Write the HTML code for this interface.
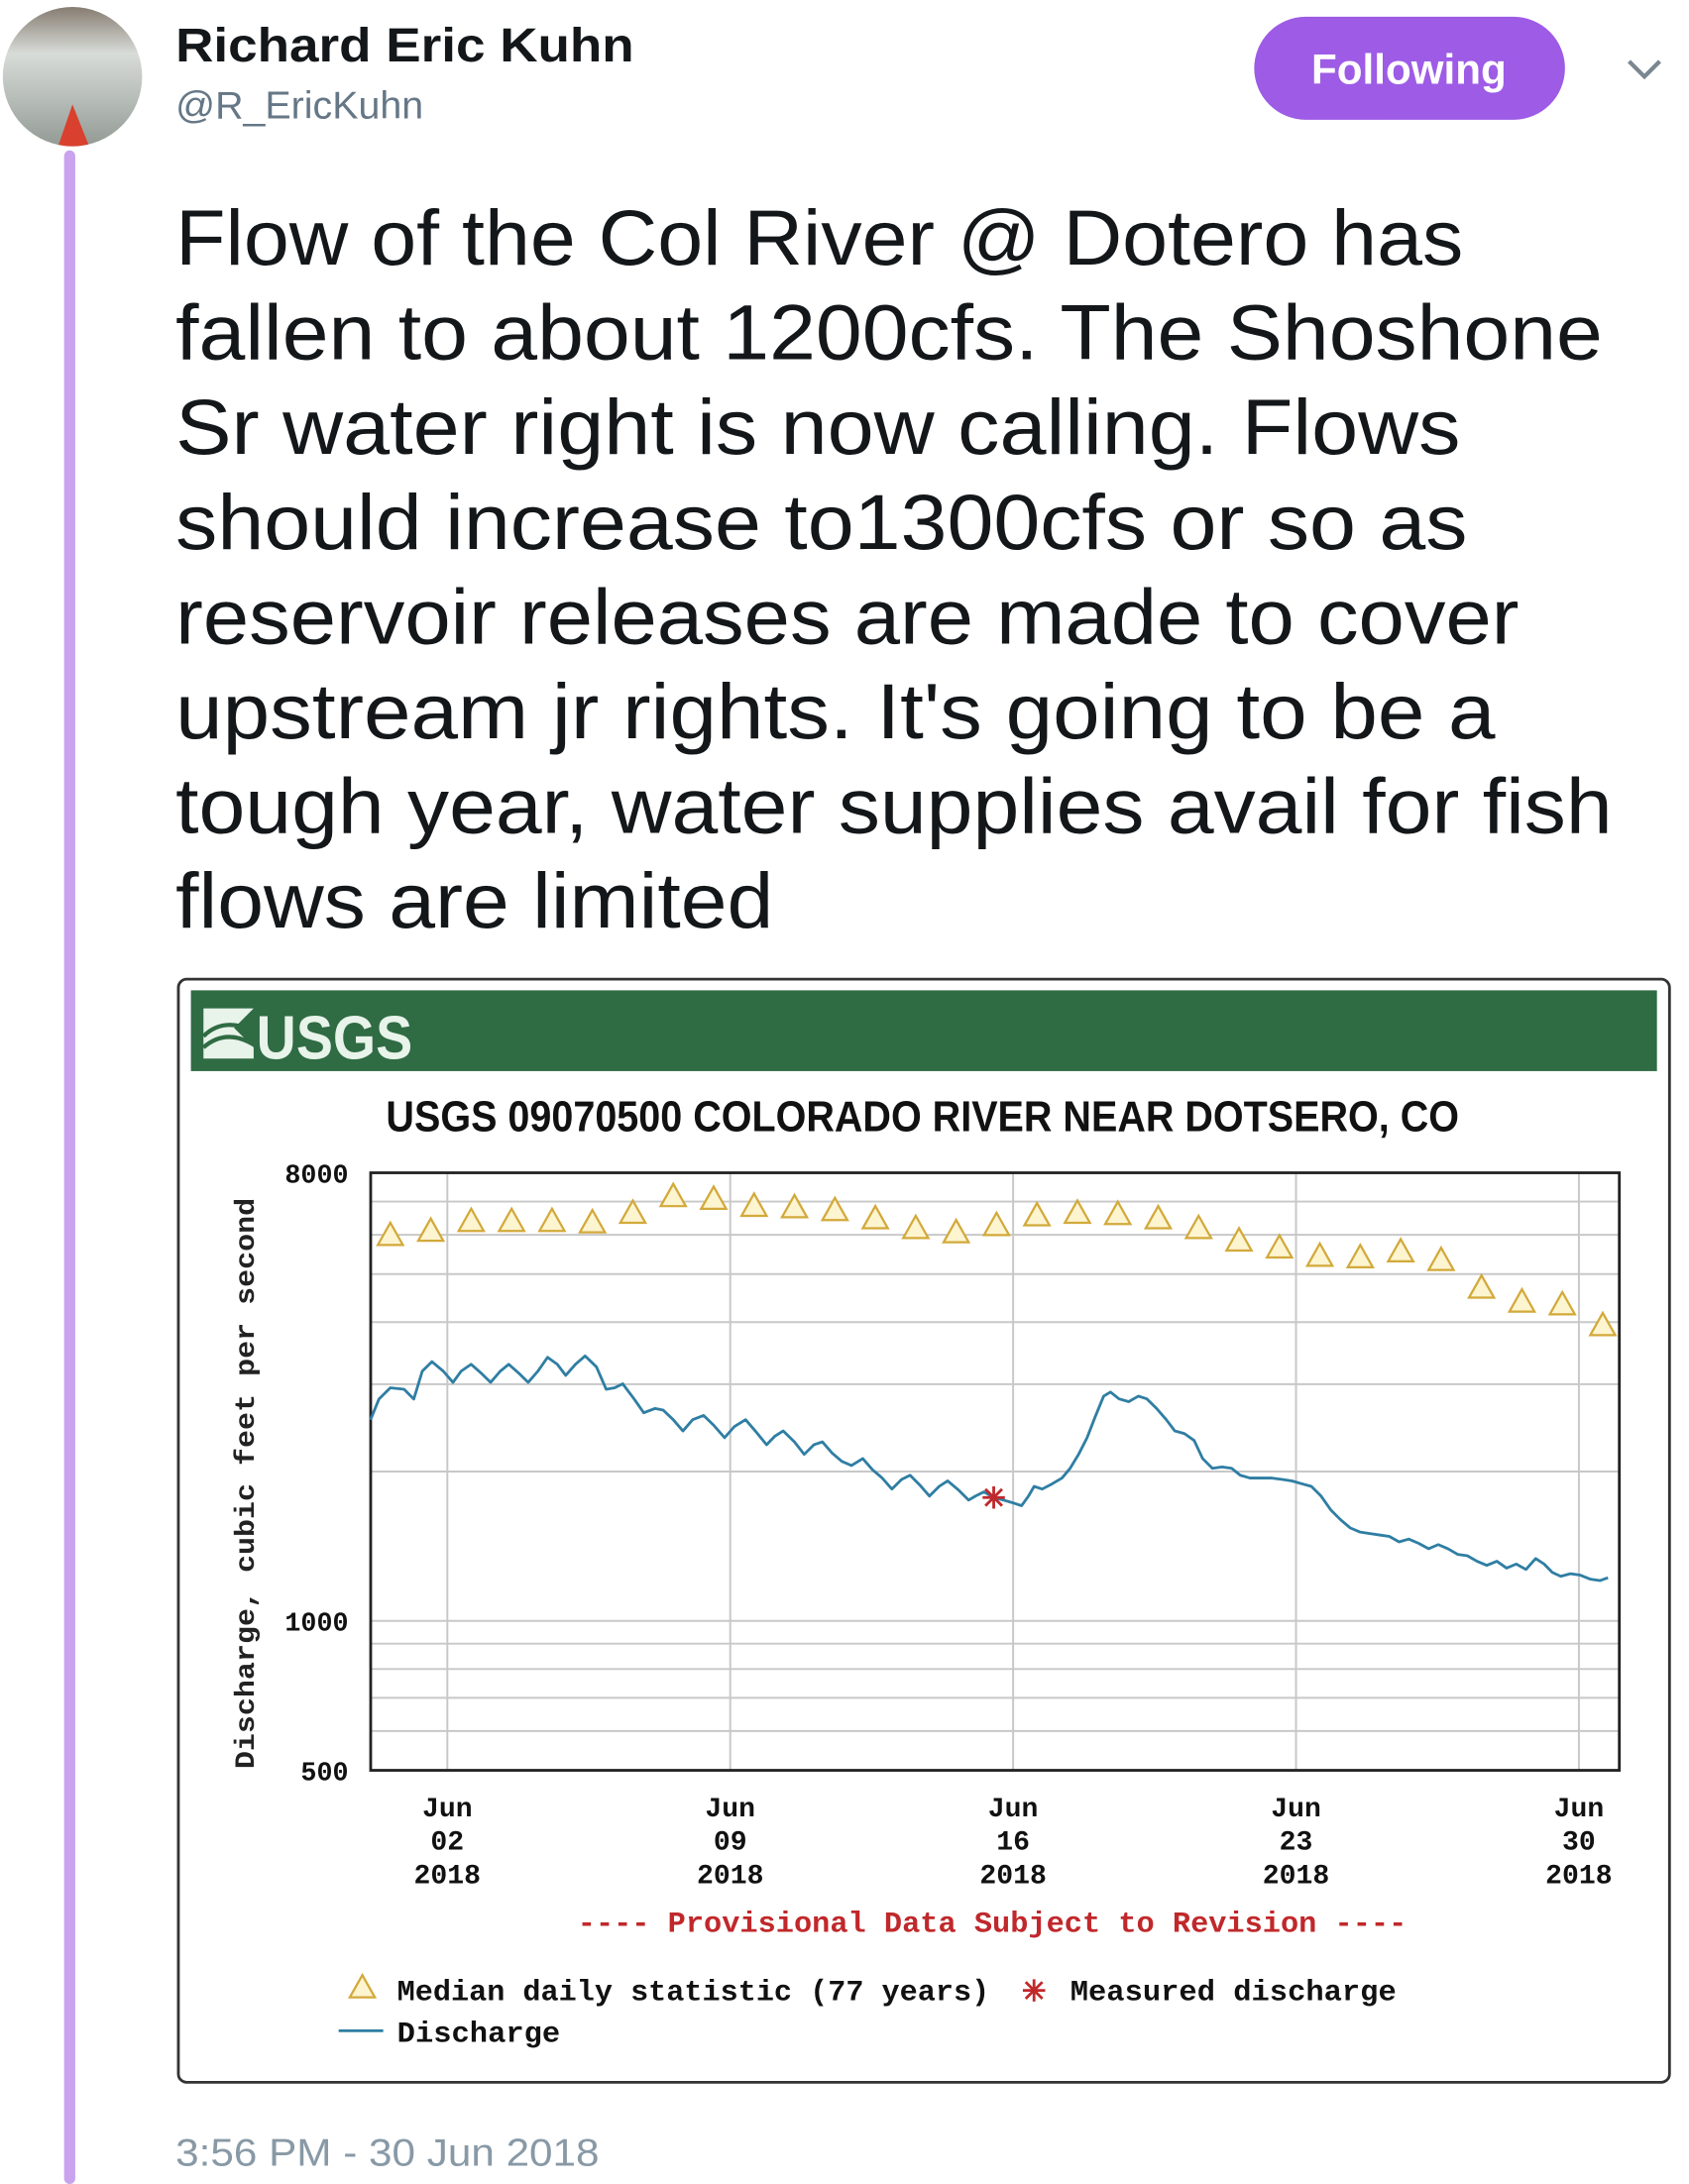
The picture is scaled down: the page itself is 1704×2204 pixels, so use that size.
<!DOCTYPE html>
<html><head><meta charset="utf-8"><style>
html,body{margin:0;padding:0;background:#fff;}
svg{display:block;}
</style></head><body>
<svg id="page" width="1704" height="2204" viewBox="0 0 1212 1568" preserveAspectRatio="none" xmlns="http://www.w3.org/2000/svg" font-family="Liberation Sans, sans-serif">
<rect x="0" y="0" width="1212" height="1568" fill="#fff"/>
<g>
<defs><clipPath id="av"><circle cx="52" cy="55" r="50"/></clipPath>
<linearGradient id="avg" x1="0" y1="0" x2="0" y2="1"><stop offset="0" stop-color="#7a6f62"/><stop offset="0.35" stop-color="#d8dcd8"/><stop offset="1" stop-color="#8e9690"/></linearGradient></defs>
<g clip-path="url(#av)"><rect x="0" y="0" width="110" height="110" fill="url(#avg)"/>
<polygon points="52,75 40,110 66,110" fill="#d9402e"/></g>
</g>
<rect x="46" y="108" width="8" height="1460" rx="4" fill="#c9a3ee"/>
<text x="126" y="44" font-size="34" font-weight="bold" fill="#14171a" textLength="329" lengthAdjust="spacingAndGlyphs">Richard Eric Kuhn</text>
<text x="126" y="85" font-size="28" fill="#657786">@R_EricKuhn</text>
<g>
<rect x="900" y="12" width="223" height="74" rx="37" fill="#9d5be6"/>
<text x="1011" y="60" font-size="30" font-weight="bold" fill="#fff" text-anchor="middle">Following</text>
</g>
<polyline points="1169,44 1180,55 1191,44" fill="none" stroke="#7a8791" stroke-width="3"/>
<g font-size="56" fill="#14171a" lengthAdjust="spacingAndGlyphs">
<text x="126" y="190" textLength="924" lengthAdjust="spacingAndGlyphs">Flow of the Col River @ Dotero has</text>
<text x="126" y="258" textLength="1024" lengthAdjust="spacingAndGlyphs">fallen to about 1200cfs. The Shoshone</text>
<text x="126" y="326" textLength="922" lengthAdjust="spacingAndGlyphs">Sr water right is now calling. Flows</text>
<text x="126" y="394" textLength="927" lengthAdjust="spacingAndGlyphs">should increase to1300cfs or so as</text>
<text x="126" y="462" textLength="964" lengthAdjust="spacingAndGlyphs">reservoir releases are made to cover</text>
<text x="126" y="530" textLength="947" lengthAdjust="spacingAndGlyphs">upstream jr rights. It's going to be a</text>
<text x="126" y="598" textLength="1031" lengthAdjust="spacingAndGlyphs">tough year, water supplies avail for fish</text>
<text x="126" y="666" textLength="429" lengthAdjust="spacingAndGlyphs">flows are limited</text>
</g>
<g>
<rect x="128" y="703" width="1070" height="792" rx="6" fill="#fff" stroke="#333" stroke-width="2"/>
<rect x="137" y="711" width="1052" height="58" fill="#2f6b43"/>
<g>
<path d="M146,724 L182,724 L168,738 L182,752 L182,760 L146,760 Z" fill="#e8f3ea"/>
<path d="M146,744 Q160,730 182,740 M146,752 Q162,738 182,750" stroke="#2f6b43" stroke-width="3" fill="none"/>
<text x="184" y="760" font-size="44" font-weight="bold" fill="#e8f3ea" font-family="Liberation Sans Narrow, Liberation Sans, sans-serif" textLength="112" lengthAdjust="spacingAndGlyphs">USGS</text>
</g>
<text x="662" y="812" font-size="31" font-weight="bold" fill="#111" text-anchor="middle" font-family="Liberation Sans Narrow, Liberation Sans, sans-serif" textLength="770" lengthAdjust="spacingAndGlyphs">USGS 09070500 COLORADO RIVER NEAR DOTSERO, CO</text>
<g id="plot"></g>
<text transform="translate(182,1065) rotate(-90)" font-size="20" font-weight="bold" fill="#222" text-anchor="middle" font-family="Liberation Mono, monospace" textLength="410" lengthAdjust="spacingAndGlyphs">Discharge, cubic feet per second</text>
<text x="712" y="1387" font-size="21" font-weight="bold" fill="#c0282b" text-anchor="middle" font-family="Liberation Mono, monospace" textLength="595" lengthAdjust="spacingAndGlyphs">---- Provisional Data Subject to Revision ----</text>
<g font-family="Liberation Mono, monospace" font-size="21" font-weight="bold" fill="#111">
<polygon points="260,1418 251,1434 269,1434" fill="#fdf4d0" stroke="#d2a93a" stroke-width="1.6"/>
<text x="285" y="1436" textLength="425" lengthAdjust="spacingAndGlyphs">Median daily statistic (77 years)</text>
<g stroke="#c0282b" stroke-width="2"><line x1="734" y1="1429" x2="750" y2="1429"/><line x1="742" y1="1421" x2="742" y2="1437"/><line x1="736" y1="1423" x2="748" y2="1435"/><line x1="748" y1="1423" x2="736" y2="1435"/></g>
<text x="768" y="1436" textLength="234" lengthAdjust="spacingAndGlyphs">Measured discharge</text>
<line x1="243" y1="1458" x2="275" y2="1458" stroke="#2f7ea3" stroke-width="2"/>
<text x="285" y="1466" textLength="117" lengthAdjust="spacingAndGlyphs">Discharge</text>
</g>
</g>
<text x="126" y="1555" font-size="28" fill="#8899a6" textLength="304" lengthAdjust="spacingAndGlyphs">3:56 PM - 30 Jun 2018</text>
</svg>
<script>
// days measured from Jun 1 00:00
const dischargeDays = [-0.90,-0.69,-0.41,-0.07,0.17,0.38,0.62,0.90,1.14,1.34,1.59,1.86,2.07,2.31,2.52,2.79,3.00,3.24,3.48,3.72,3.93,4.17,4.41,4.69,4.93,5.14,5.34,5.62,5.86,6.14,6.34,6.59,6.83,7.07,7.34,7.59,7.86,8.10,8.38,8.62,8.90,9.10,9.31,9.59,9.83,10.07,10.28,10.52,10.76,11.00,11.28,11.52,11.76,12.00,12.24,12.45,12.69,12.93,13.17,13.38,13.66,13.90,14.07,14.28,14.52,14.76,15.00,15.21,15.38,15.52,15.72,15.97,16.21,16.41,16.62,16.83,17.03,17.24,17.41,17.62,17.86,18.10,18.31,18.55,18.79,19.00,19.24,19.48,19.69,19.93,20.17,20.41,20.62,20.86,21.14,21.38,21.66,21.90,22.14,22.38,22.62,22.86,23.10,23.34,23.59,23.83,24.07,24.31,24.55,24.79,25.03,25.28,25.52,25.76,26.00,26.24,26.48,26.72,26.97,27.21,27.45,27.69,27.93,28.14,28.34,28.55,28.79,29.03,29.28,29.52,29.72];
const dischargeCfs = [2544,2802,2950,2930,2800,3186,3330,3186,3025,3186,3290,3145,3025,3186,3290,3145,3025,3186,3398,3290,3125,3290,3420,3250,2930,2950,3005,2802,2628,2680,2660,2544,2415,2544,2595,2480,2340,2463,2544,2415,2265,2355,2415,2295,2166,2265,2295,2180,2097,2057,2124,2017,1941,1844,1928,1966,1879,1785,1867,1915,1832,1752,1785,1820,1773,1752,1729,1707,1785,1867,1844,1890,1941,2030,2166,2340,2578,2838,2892,2802,2766,2838,2802,2680,2544,2415,2385,2310,2124,2030,2043,2030,1966,1941,1941,1941,1928,1915,1890,1867,1785,1674,1600,1540,1510,1500,1490,1480,1443,1462,1434,1398,1425,1398,1362,1353,1319,1294,1319,1278,1302,1270,1336,1302,1253,1230,1245,1237,1214,1206,1222];
const medianDays = [-0.41,0.59,1.59,2.59,3.59,4.59,5.59,6.59,7.59,8.59,9.59,10.59,11.59,12.59,13.59,14.59,15.59,16.59,17.59,18.59,19.59,20.59,21.59,22.59,23.59,24.59,25.59,26.59,27.59,28.59,29.59];
const medianCfs = [5988,6105,6390,6390,6390,6350,6637,7170,7080,6855,6810,6720,6470,6184,6065,6270,6560,6637,6600,6470,6184,5836,5650,5437,5400,5550,5330,4689,4396,4340,3940];
const measuredDays = [14.52];
const measuredCfs = [1773];
const yTicks = [8000,1000,500];
const yTickLabels = ["8000","1000","500"];
const yGrid = [600,700,800,900,2000,3000,4000,5000,6000,7000];
const xTickDays = [1,8,15,22,29];
const xTickMonth = ["Jun","Jun","Jun","Jun","Jun"];
const xTickDay = ["02","09","16","23","30"];
const xTickYear = ["2018","2018","2018","2018","2018"];

const L=266,R=1162,T=842,B=1271;
const pxPerDecade=(B-T)/Math.log10(8000/500);
function xs(d){return 292+29*d;}
function ys(v){return T+(Math.log10(8000)-Math.log10(v))*pxPerDecade;}
const NS='http://www.w3.org/2000/svg';
const plot=document.getElementById('plot');
function mk(tag,attrs,parent){const e=document.createElementNS(NS,tag);for(const k in attrs)e.setAttribute(k,attrs[k]);(parent||plot).appendChild(e);return e;}

const grid=mk('g',{});


yGrid.forEach(v=>{mk('line',{x1:L,x2:R,y1:ys(v),y2:ys(v),stroke:'#c8c8c8','stroke-width':1.4},grid);});
mk('line',{x1:L,x2:R,y1:ys(1000),y2:ys(1000),stroke:'#c8c8c8','stroke-width':1.4},grid);
xTickDays.forEach(d=>{mk('line',{x1:xs(d),x2:xs(d),y1:T,y2:B,stroke:'#c8c8c8','stroke-width':1.4},grid);});

const frame=mk('rect',{x:L,y:T,width:R-L,height:B-T,fill:'none',stroke:'#222','stroke-width':2});



yTicks.forEach((v,i)=>{
  const t=mk('text',{x:250,y:ys(v)+7,'font-size':19,'font-weight':'bold','text-anchor':'end','font-family':'Liberation Mono, monospace',fill:'#111'});
  t.textContent=yTickLabels[i];
  
  
});
xTickDays.forEach((d,i)=>{
  const g=mk('g',{'font-size':20,'font-weight':'bold','text-anchor':'middle','font-family':'Liberation Mono, monospace',fill:'#111'});
  
  
  [xTickMonth[i],xTickDay[i],xTickYear[i]].forEach((s,j)=>{const t=mk('text',{x:xs(d),y:1304+24*j},g);t.textContent=s;});
});

const med=mk('g',{});


medianDays.forEach((d,i)=>{
  const x=xs(d),y=ys(medianCfs[i]);
  const p=mk('polygon',{points:`${x},${y-9} ${x-9},${y+7} ${x+9},${y+7}`,fill:'#fdf4d0',stroke:'#d2a93a','stroke-width':1.6},med);
  
  
});

const line=mk('polyline',{fill:'none',stroke:'#2f7ea3','stroke-width':2,'stroke-linejoin':'round',points:dischargeDays.map((d,i)=>xs(d)+','+ys(dischargeCfs[i])).join(' ')});



measuredDays.forEach((d,i)=>{
  const x=xs(d),y=ys(measuredCfs[i]);
  const g=mk('g',{stroke:'#c0282b','stroke-width':2});
  
  
  mk('line',{x1:x-8,x2:x+8,y1:y,y2:y},g);
  mk('line',{x1:x,x2:x,y1:y-8,y2:y+8},g);
  mk('line',{x1:x-6,x2:x+6,y1:y-6,y2:y+6},g);
  mk('line',{x1:x+6,x2:x-6,y1:y-6,y2:y+6},g);
});
</script>
</body></html>
